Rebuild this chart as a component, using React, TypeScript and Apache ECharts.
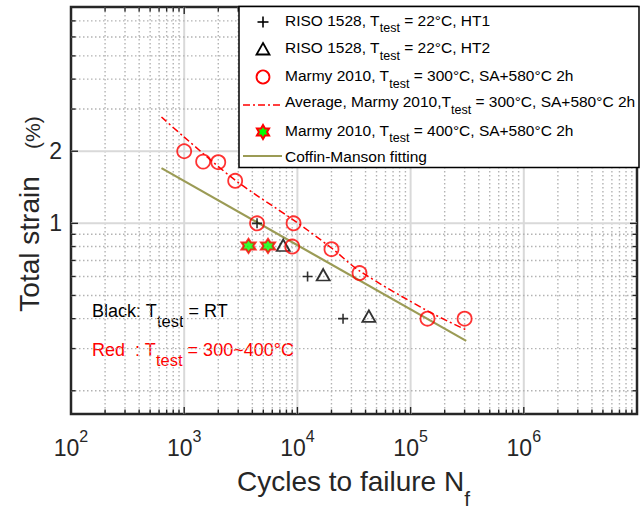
import React, { useEffect, useRef } from 'react';
import * as echarts from 'echarts';

const FONT = '"Liberation Sans", Arial, Helvetica, sans-serif';
const AXIS_COLOR = '#262626';
const RED = '#ff0000';
const OLIVE = '#9b9b55';
const font = (size: number) => `${size}px ${FONT}`;

// axis ranges (log-log)
const X_MIN = 100;
const X_MAX = 1e7;
const Y_MIN = 0.16;
const Y_MAX = 8;

// grid / tick positions
const xDecades = [100, 1000, 10000, 100000, 1000000, 10000000];
const xMantissas = [2, 3, 4, 5, 6, 7, 8, 9];
const yMajorGrid = [1, 2];
const yMinorGrid = [0.2, 0.3, 0.4, 0.5, 0.6, 0.7, 0.8, 0.9, 3, 4, 5, 6, 7];
const yTickLabels = [1, 2];
const xLabelMaxExp = 6;

// data: [cycles to failure, total strain %]
const risoHT1 = [[4400, 1.0], [12300, 0.6], [25300, 0.4]];
const risoHT2 = [[7500, 0.81], [16900, 0.61], [42800, 0.41]];
const marmy300 = [
  [1000, 2.0], [1470, 1.81], [2000, 1.8], [2820, 1.505], [4400, 1.0],
  [9250, 1.0], [9000, 0.8], [20000, 0.78], [35400, 0.62], [141000, 0.4], [300000, 0.4],
];
const marmy400 = [[3700, 0.805], [5500, 0.805]];
const avgN = [630, 990, 2820, 9250, 20000, 35400, 141000, 310000];
const avgS = [2.78, 2.3, 1.515, 1.032, 0.789, 0.633, 0.431, 0.359];
const cmN = [630, 310000];
const cmS = [1.7, 0.323];

const legendTexts: [string, string, string][] = [
  ['RISO 1528, T', 'test', ' = 22°C, HT1'],
  ['RISO 1528, T', 'test', ' = 22°C, HT2'],
  ['Marmy 2010, T', 'test', ' = 300°C, SA+580°C 2h'],
  ['Average, Marmy 2010,T', 'test', ' = 300°C, SA+580°C 2h'],
  ['Marmy 2010, T', 'test', ' = 400°C, SA+580°C 2h'],
  ['Coffin-Manson fitting', '', ''],
];

const PLUS_PATH = 'path://M4.2,0H5.8V10H4.2Z M0,4.2H10V5.8H0Z';
const HEX_PATH =
  'path://M10,0L12.887,5L18.66,5L15.774,10L18.66,15L12.887,15L10,20L7.113,15L1.34,15L4.226,10L1.34,5L7.113,5Z';
const hexUnit = [
  [0, -1], [0.2887, -0.5], [0.866, -0.5], [0.5774, 0], [0.866, 0.5], [0.2887, 0.5],
  [0, 1], [-0.2887, 0.5], [-0.866, 0.5], [-0.5774, 0], [-0.866, -0.5], [-0.2887, -0.5],
];

function buildXGridData() {
  const rows: number[][] = [];
  xDecades.forEach((d, i) => {
    const boundary = d === X_MIN || d === X_MAX;
    rows.push([d, 1, 1, boundary ? 0 : 1]);
    if (i < xDecades.length - 1) xMantissas.forEach((m) => rows.push([m * d, 1, 0, 1]));
  });
  return rows;
}

function buildYGridData() {
  const rows: number[][] = [];
  yMajorGrid.forEach((v) => rows.push([X_MIN, v, 1, 1]));
  yMinorGrid.forEach((v) => rows.push([X_MIN, v, 0, 1]));
  return rows;
}

const zip = (a: number[], b: number[]) => a.map((v, i) => [v, b[i]]);

export default function App() {
  const ref = useRef<HTMLDivElement>(null);
  useEffect(() => {
    document.body.style.margin = '0';
    const chart = echarts.init(ref.current!, null, { renderer: 'svg' });

    const legendY = [20, 47.7, 75.7, 101.7, 130, 156.7];
    const legendGraphics: any[] = [
      {
        type: 'rect', z: 100,
        shape: { x: 239, y: 6.5, width: 400, height: 161 },
        style: { fill: '#fff', stroke: '#000', lineWidth: 1.5 },
      },
      { type: 'line', z: 101, shape: { x1: 257.5, y1: 22, x2: 268.5, y2: 22 }, style: { stroke: '#000', lineWidth: 1.6 } },
      { type: 'line', z: 101, shape: { x1: 263, y1: 16.5, x2: 263, y2: 27.5 }, style: { stroke: '#000', lineWidth: 1.6 } },
      {
        type: 'polygon', z: 101,
        shape: { points: [[263, 43], [269.5, 54.5], [256.5, 54.5]] },
        style: { fill: 'none', stroke: '#000', lineWidth: 1.8 },
      },
      { type: 'circle', z: 101, shape: { cx: 263, cy: 77, r: 6.5 }, style: { fill: 'none', stroke: RED, lineWidth: 1.8 } },
      {
        type: 'line', z: 101, shape: { x1: 243, y1: 105, x2: 282, y2: 105 },
        style: { stroke: RED, lineWidth: 1.5, lineDash: [7, 3, 2, 3] },
      },
      {
        type: 'polygon', z: 101,
        shape: { points: hexUnit.map(([a, b]) => [263 + a * 7, 132 + b * 7]) },
        style: { fill: '#00ff00', stroke: RED, lineWidth: 2 },
      },
      { type: 'line', z: 101, shape: { x1: 243, y1: 156, x2: 282, y2: 156 }, style: { stroke: OLIVE, lineWidth: 2.2 } },
    ];
    legendTexts.forEach(([a, s, b], i) => {
      const text = s ? `{a|${a}}{s|${s}}{a|${b}}` : `{a|${a}}`;
      legendGraphics.push({
        type: 'text', z: 101, x: 285, y: legendY[i],
        style: {
          text,
          font: font(15.5),
          align: 'left',
          verticalAlign: 'middle',
          rich: {
            a: { font: font(15.5), fill: '#000' },
            s: { font: font(12.5), fill: '#000', padding: [16, 0, 0, 0] },
          },
        },
      });
    });

    const option: any = {
      animation: false,
      backgroundColor: '#fff',
      grid: {
        left: 71, top: 7, width: 571.5, height: 407,
        show: true, borderColor: AXIS_COLOR, borderWidth: 2.5, backgroundColor: '#fff',
      },
      xAxis: {
        type: 'log', logBase: 10, min: X_MIN, max: X_MAX,
        axisLine: { show: false }, axisTick: { show: false }, splitLine: { show: false },
        axisLabel: {
          margin: 14,
          formatter: (v: number) => {
            const e = Math.round(Math.log10(v));
            if (e > xLabelMaxExp) return '';
            return `{b|10}{s|${e}}`;
          },
          rich: {
            b: { fontSize: 23, fontFamily: FONT, color: AXIS_COLOR },
            s: { fontSize: 16, fontFamily: FONT, color: AXIS_COLOR, padding: [0, 0, 23, 0] },
          },
        },
      },
      yAxis: {
        type: 'log', logBase: 10, min: Y_MIN, max: Y_MAX,
        axisLine: { show: false }, axisTick: { show: false }, splitLine: { show: false },
        axisLabel: { show: false },
      },
      series: [
        {
          type: 'custom', name: 'xgrid', z: 1, silent: true,
          data: buildXGridData(),
          encode: { x: 0, y: 1 },
          renderItem: (params: any, api: any) => {
            const cs = params.coordSys;
            const x = api.coord([api.value(0), 1])[0];
            const major = api.value(2) === 1;
            const top = cs.y;
            const bottom = cs.y + cs.height;
            const children: any[] = [];
            if (api.value(3) === 1) {
              children.push({
                type: 'line', shape: { x1: x, y1: top, x2: x, y2: bottom },
                style: major
                  ? { stroke: '#d9d9d9', lineWidth: 2 }
                  : { stroke: '#b3b3b3', lineWidth: 1.4, lineDash: [1.5, 2.5] },
              });
            }
            const tl = major ? 7 : 4.5;
            children.push({ type: 'line', shape: { x1: x, y1: bottom, x2: x, y2: bottom - tl }, style: { stroke: AXIS_COLOR, lineWidth: 1.4 } });
            children.push({ type: 'line', shape: { x1: x, y1: top, x2: x, y2: top + tl }, style: { stroke: AXIS_COLOR, lineWidth: 1.4 } });
            return { type: 'group', children };
          },
        },
        {
          type: 'custom', name: 'ygrid', z: 1, silent: true,
          data: buildYGridData(),
          encode: { x: 0, y: 1 },
          renderItem: (params: any, api: any) => {
            const cs = params.coordSys;
            const y = api.coord([X_MIN, api.value(1)])[1];
            const major = api.value(2) === 1;
            const left = cs.x;
            const right = cs.x + cs.width;
            const children: any[] = [
              {
                type: 'line', shape: { x1: left, y1: y, x2: right, y2: y },
                style: major
                  ? { stroke: '#d9d9d9', lineWidth: 2 }
                  : { stroke: '#b3b3b3', lineWidth: 1.4, lineDash: [1.5, 2.5] },
              },
            ];
            const tl = major ? 7 : 4.5;
            children.push({ type: 'line', shape: { x1: left, y1: y, x2: left + tl, y2: y }, style: { stroke: AXIS_COLOR, lineWidth: 1.4 } });
            children.push({ type: 'line', shape: { x1: right, y1: y, x2: right - tl, y2: y }, style: { stroke: AXIS_COLOR, lineWidth: 1.4 } });
            return { type: 'group', children };
          },
        },
        {
          type: 'custom', name: 'ylabels', z: 2, silent: true,
          data: yTickLabels.map((v) => [X_MIN, v]),
          encode: { x: 0, y: 1 },
          renderItem: (params: any, api: any) => {
            const p = api.coord([X_MIN, api.value(1)]);
            return {
              type: 'text', x: p[0] - 9, y: p[1],
              style: {
                text: String(api.value(1)), font: font(23), fill: AXIS_COLOR,
                align: 'right', verticalAlign: 'middle',
              },
            };
          },
        },
        {
          type: 'scatter', name: 'RISO 1528 HT1', z: 4,
          data: risoHT1, symbol: PLUS_PATH, symbolSize: 10,
          itemStyle: { color: '#000' },
        },
        {
          type: 'scatter', name: 'RISO 1528 HT2', z: 4,
          data: risoHT2, symbol: 'triangle', symbolSize: [13, 11.5],
          itemStyle: { color: 'rgba(0,0,0,0)', borderColor: '#000', borderWidth: 1.8 },
        },
        {
          type: 'scatter', name: 'Marmy 2010 300C', z: 4,
          data: marmy300, symbol: 'circle', symbolSize: 14,
          itemStyle: { color: 'rgba(0,0,0,0)', borderColor: RED, borderWidth: 1.8 },
        },
        {
          type: 'line', name: 'Average', z: 3,
          data: zip(avgN, avgS), showSymbol: false, symbol: 'none', smooth: 0.3,
          lineStyle: { color: RED, width: 1.5, type: [7, 3, 2, 3] },
        },
        {
          type: 'scatter', name: 'Marmy 2010 400C', z: 5,
          data: marmy400, symbol: HEX_PATH, symbolSize: 14,
          itemStyle: { color: '#00ff00', borderColor: RED, borderWidth: 2 },
        },
        {
          type: 'line', name: 'Coffin-Manson fitting', z: 3,
          data: zip(cmN, cmS), showSymbol: false, symbol: 'none',
          lineStyle: { color: OLIVE, width: 2.2 },
        },
      ],
      graphic: [
        ...legendGraphics,
        {
          type: 'text', x: 92, y: 311,
          style: {
            text: '{a|Black: T}{s|test}{a| = RT}', font: font(18), align: 'left', verticalAlign: 'middle',
            rich: {
              a: { font: font(18), fill: '#000' },
              s: { font: font(16.5), fill: '#000', padding: [20, 0, 0, 0] },
            },
          },
        },
        {
          type: 'text', x: 92, y: 350,
          style: {
            text: '{a|Red  : T}{s|test}{a| = 300~400°C}', font: font(18), align: 'left', verticalAlign: 'middle',
            rich: {
              a: { font: font(18), fill: RED },
              s: { font: font(16.5), fill: RED, padding: [20, 0, 0, 0] },
            },
          },
        },
        {
          type: 'text', x: 237, y: 481,
          style: {
            text: '{a|Cycles to failure N}{s|f}', font: font(28), align: 'left', verticalAlign: 'middle',
            rich: {
              a: { font: font(28), fill: AXIS_COLOR },
              s: { font: font(21), fill: AXIS_COLOR, padding: [34, 0, 0, 0] },
            },
          },
        },
        {
          type: 'text', x: 29, y: 214, rotation: Math.PI / 2,
          style: {
            text: '{a|Total strain  }{b|  (%)}', font: font(28), align: 'center', verticalAlign: 'middle',
            rich: {
              a: { font: font(28), fill: AXIS_COLOR },
              b: { font: font(21), fill: AXIS_COLOR, padding: [6, 0, 0, 0] },
            },
          },
        },
      ],
    };
    chart.setOption(option);
    return () => chart.dispose();
  }, []);
  return <div ref={ref} style={{ width: 640, height: 509 }} />;
}
